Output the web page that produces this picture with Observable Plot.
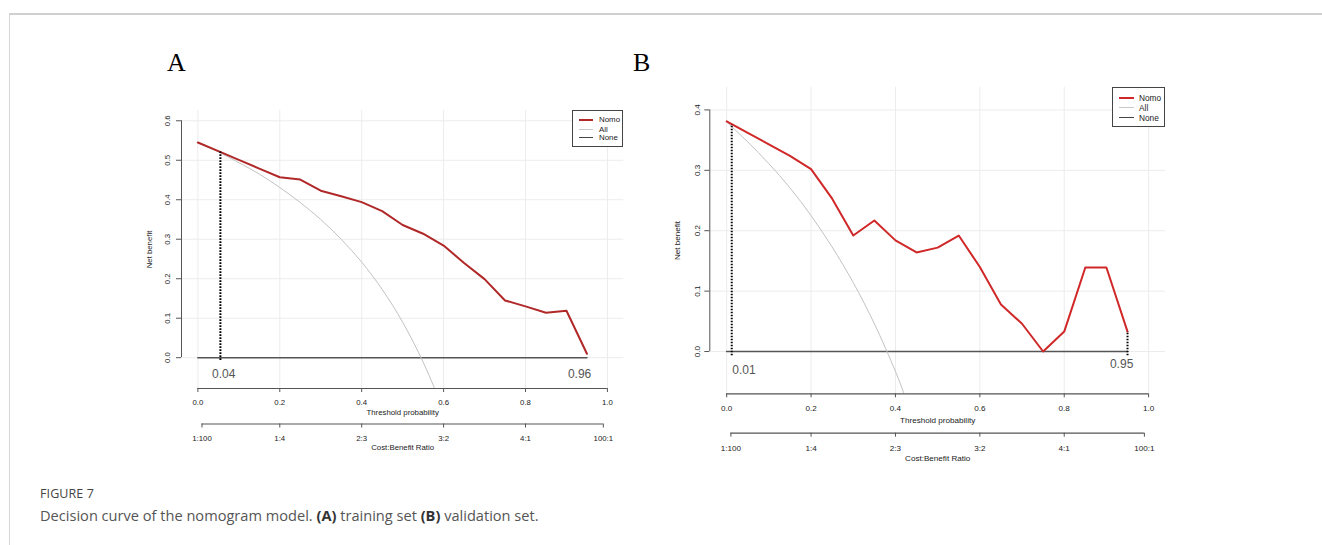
<!DOCTYPE html>
<html><head><meta charset="utf-8">
<script src="https://cdn.jsdelivr.net/npm/d3@7"></script>
<script src="https://cdn.jsdelivr.net/npm/@observablehq/plot@0.6"></script>
<style>
html,body{margin:0;padding:0;background:#fff;}
#page{position:relative;width:1322px;height:545px;overflow:hidden;font-family:"Liberation Sans",Arial,sans-serif;background:#fff;}
.frame-top{position:absolute;left:9px;top:13px;right:0;height:0;border-top:2px solid #d0d0d0;}
.frame-left{position:absolute;left:9px;top:13px;bottom:0;width:0;border-left:1px solid #d6d6d6;}
.letter{position:absolute;font-family:"Liberation Serif","Times New Roman",serif;font-size:26px;color:#000;line-height:1;}
.plot{position:absolute;}
.legend{position:absolute;box-sizing:border-box;border:1px solid #444;background:#fff;color:#222;}
.legend .sw{position:absolute;height:0;}
.legend .lb{position:absolute;line-height:1;transform:translateY(-50%);}
.fig{position:absolute;left:40px;top:485px;font-family:"Open Sans","Noto Sans",sans-serif;font-size:12.5px;color:#444;letter-spacing:0.1px;}
.cap{position:absolute;left:40px;top:505px;font-family:"Open Sans","Noto Sans",sans-serif;font-size:14.6px;color:#555;white-space:nowrap;}
.cap b{color:#333;font-weight:700;}
</style>
</head><body>
<div id="page">
  <div class="frame-top"></div>
  <div class="frame-left"></div>
  <div class="letter" style="left:167px;top:50px;">A</div>
  <div class="letter" style="left:633px;top:50px;">B</div>
  <div id="plotA" class="plot" style="left:120px;top:90px;"></div>
  <div id="plotB" class="plot" style="left:650px;top:66px;"></div>
  <div id="legA" class="legend" style="left:572px;top:110px;width:51px;height:37px;"></div>
  <div id="legB" class="legend" style="left:1112px;top:87px;width:53px;height:40px;"></div>
  <div class="fig">FIGURE 7</div>
  <div class="cap">Decision curve of the nomogram model. <b>(A)</b> training set <b>(B)</b> validation set.</div>
</div>
<script>
// ---------- data ----------
const thresholds = [0,0.05,0.10,0.15,0.20,0.25,0.30,0.35,0.40,0.45,0.50,0.55,0.60,0.65,0.70,0.75,0.80,0.85,0.90,0.95];
const nomoA = [0.545,0.523,0.501,0.479,0.457,0.451,0.423,0.409,0.394,0.371,0.336,0.314,0.284,0.240,0.199,0.145,0.130,0.114,0.119,0.010];
const nomoB = [0.381,0.362,0.343,0.324,0.302,0.253,0.192,0.217,0.184,0.164,0.172,0.192,0.140,0.078,0.046,0.000,0.033,0.139,0.139,0.033];
const allThrA = [0,0.05,0.10,0.15,0.20,0.25,0.30,0.35,0.40,0.45,0.50,0.55,0.58];
const allA    = [0.545,0.521,0.494,0.465,0.431,0.393,0.350,0.300,0.242,0.173,0.090,-0.011,-0.083];
const allThrB = [0,0.05,0.10,0.15,0.20,0.25,0.30,0.35,0.40,0.42];
const allB    = [0.380,0.347,0.311,0.271,0.225,0.173,0.114,0.046,-0.033,-0.069];
const noneThr = [0,0.95];
const noneVal = [0,0];
const seriesNames = ["Nomo","All","None"];
const xTicks = [0,0.2,0.4,0.6,0.8,1.0];
const costTicks = [0.01,0.2,0.4,0.6,0.8,0.99];
const costLabels = ["1:100","1:4","2:3","3:2","4:1","100:1"];
const yTicksA = [0,0.1,0.2,0.3,0.4,0.5,0.6];
const yTicksB = [0,0.1,0.2,0.3,0.4];
const cutA = [{t:0.055, lo:-0.007, hi:0.521}];
const cutB = [{t:0.012, lo:-0.007, hi:0.376},{t:0.95, lo:-0.007, hi:0.033}];
const notesA = [{t:0.063, label:"0.04", dy:16},{t:0.932, label:"0.96", dy:16}];
const notesB = [{t:0.041, label:"0.01", dy:19},{t:0.936, label:"0.95", dy:13}];

const fmt = d3.format(".1f");
const FONT = '"Liberation Sans",Arial,sans-serif';

function panel(o){
  const xLo=-0.04, xHi=1.04;
  const [yBot,yTop]=o.yDomain;
  const yMax=o.yTicks[o.yTicks.length-1];
  const nomo = thresholds.map((t,i)=>({t, v:o.nomo[i]}));
  const all = o.allThr.map((t,i)=>({t, v:o.all[i]}));
  const none = noneThr.map((t,i)=>({t, v:noneVal[i]}));
  const fs=o.fs, ax="#555", tc="#222";
  return Plot.plot({
    width:o.width, height:o.height,
    marginLeft:o.ml, marginRight:o.mr, marginTop:o.mt, marginBottom:o.mb,
    x:{domain:[xLo,xHi], axis:null},
    y:{domain:o.yDomain, axis:null},
    style:{fontFamily:FONT, background:"transparent", overflow:"visible"},
    marks:[
      Plot.ruleX(xTicks,{x:d=>d, y1:yBot, y2:yTop, stroke:"#ececec", strokeWidth:1}),
      Plot.ruleY(o.yTicks,{y:d=>d, x1:xLo, x2:xHi, stroke:"#ececec", strokeWidth:1}),
      Plot.line(none,{x:"t", y:"v", stroke:"#555", strokeWidth:1.6}),
      Plot.line(all,{x:"t", y:"v", stroke:"#c2c2c2", strokeWidth:1, curve:"catmull-rom", clip:true}),
      Plot.line(nomo,{x:"t", y:"v", stroke:o.red, strokeWidth:2}),
      Plot.ruleX(o.cuts,{x:"t", y1:"lo", y2:"hi", stroke:"#000", strokeWidth:2, strokeDasharray:"1.6,1.4"}),
      ...o.notes.map(n => Plot.text([n],{x:"t", y:0, text:"label", dy:n.dy, fontSize:12, fill:"#555"})),
      // y axis
      Plot.ruleX([xLo],{x:d=>d, y1:0, y2:yMax, stroke:ax}),
      Plot.ruleY(o.yTicks,{y:d=>d, x1:xLo, x2:xLo, insetLeft:-5, stroke:ax}),
      Plot.text(o.yTicks,{x:xLo, y:d=>d, text:d=>fmt(d), rotate:-90, dx:o.ytx, fontSize:fs, fill:tc}),
      Plot.text(["Net benefit"],{x:xLo, y:(yBot+yTop)/2, text:d=>d, rotate:-90, dx:-32, fontSize:fs, fill:tc}),
      // x axis (threshold)
      Plot.ruleY([yBot],{y:d=>d, x1:0, x2:1, stroke:ax, strokeWidth:1.2}),
      Plot.ruleX(xTicks,{x:d=>d, y1:yBot, y2:yBot, insetBottom:-4, stroke:ax}),
      Plot.text(xTicks,{x:d=>d, y:yBot, text:d=>fmt(d), dy:o.xl, fontSize:fs, fill:tc}),
      Plot.text(["Threshold probability"],{x:0.5, y:yBot, text:d=>d, dy:o.xt, fontSize:fs, fill:tc}),
      // cost:benefit axis
      Plot.ruleY([yBot],{y:d=>d, x1:costTicks[0], x2:costTicks[costTicks.length-1], dy:o.c1, stroke:ax, strokeWidth:1.2}),
      Plot.ruleX(costTicks,{x:d=>d, y1:yBot, y2:yBot, insetBottom:-4, dy:o.c1, stroke:ax}),
      Plot.text(costTicks,{x:d=>d, y:yBot, text:(d,i)=>costLabels[i], dy:o.c2, fontSize:fs, fill:tc}),
      Plot.text(["Cost:Benefit Ratio"],{x:0.5, y:yBot, text:d=>d, dy:o.c3, fontSize:fs, fill:tc})
    ]
  });
}

const cfgA = {width:520, height:390, ml:61, mr:16.7, mt:20, mb:92, yDomain:[-0.078,0.626], yTicks:yTicksA,
  nomo:nomoA, allThr:allThrA, all:allA, red:"#b02828", cuts:cutA, notes:notesA, fs:7.8,
  ytx:-14, xl:14, xt:24, c1:35.5, c2:50, c3:59};
const cfgB = {width:540, height:414, ml:59.3, mr:25, mt:20.7, mb:86.7, yDomain:[-0.07,0.4376], yTicks:yTicksB,
  nomo:nomoB, allThr:allThrB, all:allB, red:"#d02828", cuts:cutB, notes:notesB, fs:8.1,
  ytx:-12.6, xl:15, xt:26.7, c1:39.4, c2:55, c3:65};

document.getElementById("plotA").appendChild(panel(cfgA));
document.getElementById("plotB").appendChild(panel(cfgB));

// legends
const legColors = {A:["#b02828","#c8c8c8","#444"], B:["#d02828","#c8c8c8","#444"]};
function legend(id, colors, rows, swL, swW, txL, fs){
  const el=document.getElementById(id);
  seriesNames.forEach((name,i)=>{
    const sw=document.createElement("div");
    sw.className="sw";
    sw.style.left=swL+"px"; sw.style.width=swW+"px"; sw.style.top=(rows[i]-1)+"px";
    sw.style.borderTop=(i===0?2:1.5)+"px solid "+colors[i];
    el.appendChild(sw);
    const lb=document.createElement("div");
    lb.className="lb"; lb.textContent=name;
    lb.style.left=txL+"px"; lb.style.top=rows[i]+"px"; lb.style.fontSize=fs+"px";
    el.appendChild(lb);
  });
}
legend("legA", legColors.A, [9,18.5,27], 5.5, 14, 26, 7.9);
legend("legB", legColors.B, [10,20,29.5], 6, 14.5, 26, 8.3);
</script>
</body></html>
